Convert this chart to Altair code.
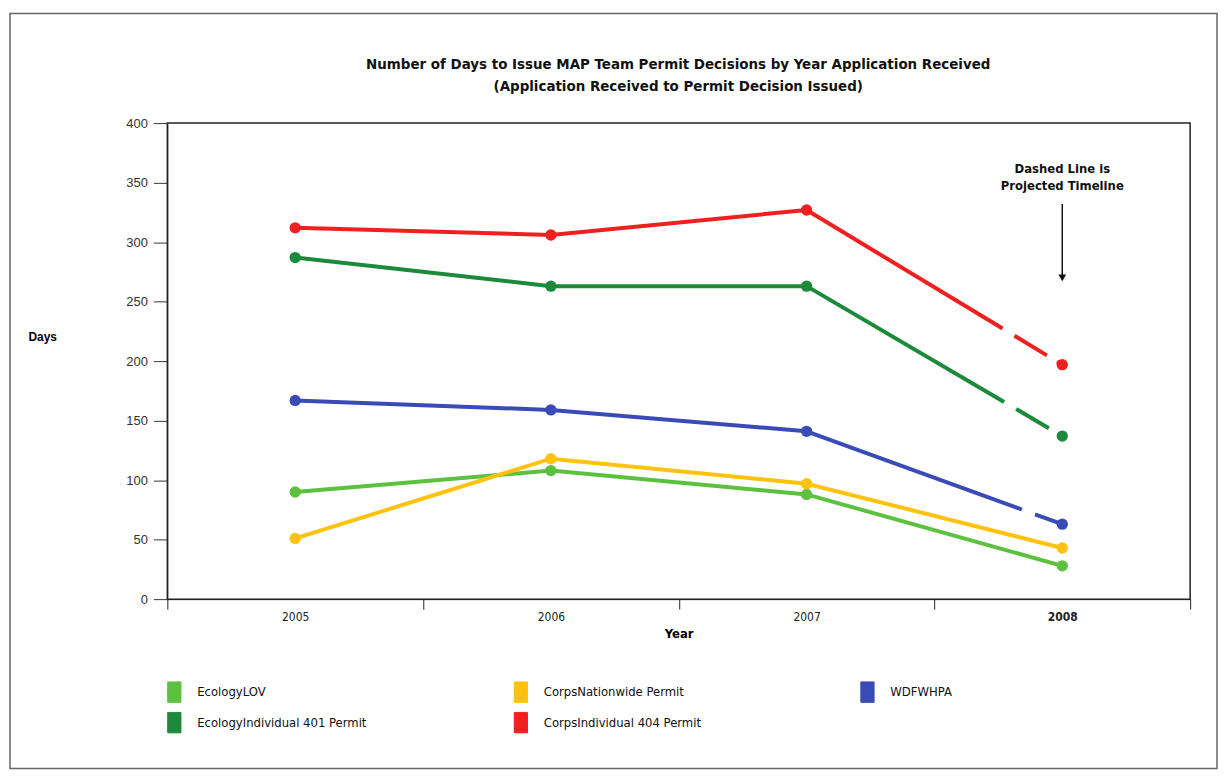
import altair as alt
import pandas as pd

years = ["2005", "2006", "2007", "2008"]
series = [
    "EcologyLOV",
    "CorpsNationwide Permit",
    "WDFWHPA",
    "EcologyIndividual 401 Permit",
    "CorpsIndividual 404 Permit",
]
colors = ["#5cc13e", "#ffc20e", "#3a4bb8", "#1c8a3a", "#f02020"]
values = {
    "EcologyLOV": [90, 108, 88, 28],
    "CorpsNationwide Permit": [51, 118, 97, 43],
    "WDFWHPA": [167, 159, 141, 63],
    "EcologyIndividual 401 Permit": [287, 263, 263, 137],
    "CorpsIndividual 404 Permit": [312, 306, 327, 197],
}
projected = {
    "EcologyLOV": False,
    "CorpsNationwide Permit": False,
    "WDFWHPA": True,
    "EcologyIndividual 401 Permit": True,
    "CorpsIndividual 404 Permit": True,
}
title_lines = [
    "Number of Days to Issue MAP Team Permit Decisions  by Year Application Received",
    "(Application Received  to Permit Decision  Issued)",
]
note_lines = ["Dashed Line is", "Projected Timeline"]
note_days = [361, 347]
arrow_top, arrow_tip = 332, 270

rows_all, rows_solid, rows_dash = [], [], []
for s in series:
    for i, y in enumerate(years):
        r = {"Series": s, "Year": y, "Days": values[s][i]}
        rows_all.append(r)
        if not projected[s] or i < 3:
            rows_solid.append(r)
        if projected[s] and i >= 2:
            rows_dash.append(r)
df_all = pd.DataFrame(rows_all)
df_solid = pd.DataFrame(rows_solid)
df_dash = pd.DataFrame(rows_dash)

FONT = "Liberation Sans"
NARROW = "Liberation Sans Narrow, DejaVu Sans Condensed, Liberation Sans"

x_enc = alt.X(
    "Year:O",
    scale=alt.Scale(type="band", domain=years, paddingInner=0, paddingOuter=0),
    axis=alt.Axis(
        tickBand="extent", labelAngle=0, title="Year", titleFontWeight="bold",
        titleFont=NARROW, titleFontSize=13, titlePadding=6,
        tickSize=10, labelPadding=2, labelFont=NARROW, labelFontSize=12,
        labelColor="#222", tickColor="#222", domainColor="#222", grid=False,
        labelFontWeight={"condition": {"test": "datum.label == '2008'", "value": "bold"}, "value": "normal"},
    ),
)
y_enc = alt.Y(
    "Days:Q",
    scale=alt.Scale(domain=[0, 400], nice=False),
    axis=alt.Axis(
        values=list(range(0, 401, 50)), title="Days", titleAngle=0,
        titleX=-140, titleY=214, titleAlign="left", titleBaseline="middle",
        titleFontWeight="bold", titleFont=FONT, titleFontSize=12,
        tickSize=14, labelPadding=6, labelFont=FONT, labelFontSize=13,
        labelColor="#333", tickColor="#333", domainColor="#222", grid=False,
    ),
)
color_scale = alt.Scale(domain=series, range=colors)
legend = alt.Legend(
    title=None, orient="none", legendX=-4, legendY=560, columns=3,
    direction="horizontal", gridAlign="all", columnPadding=143, rowPadding=5,
    symbolType="M-0.65,-1L0.65,-1L0.65,1L-0.65,1Z", symbolSize=420,
    symbolStrokeColor="#222", symbolStrokeWidth=1, symbolOpacity=1,
    labelFont=NARROW, labelFontSize=13, labelColor="#111", labelOffset=12,
    labelLimit=300,
)
color_enc = alt.Color("Series:N", scale=color_scale, sort=series, legend=legend)

frame = alt.Chart(pd.DataFrame({"a": [0]})).mark_rect(
    fill=None, stroke="#666", strokeWidth=1.5, clip=False
).encode(
    x=alt.value(-158), x2=alt.value(1054), y=alt.value(-110), y2=alt.value(648)
)

df_title = pd.DataFrame({"t": ["\n".join(title_lines)]})
title = alt.Chart(df_title).mark_text(
    font=NARROW, fontSize=15, fontWeight="bold", color="#111",
    baseline="middle", lineBreak="\n", lineHeight=22,
).encode(x=alt.value(513), y=alt.value(-59), text="t:N")

solid = alt.Chart(df_solid).mark_line(strokeWidth=4).encode(
    x=x_enc, y=y_enc, color=color_enc, order=alt.Order("Year:O"),
)
dashed = alt.Chart(df_dash).mark_line(strokeWidth=4, strokeDash=[230, 14, 38, 12]).encode(
    x="Year:O", y="Days:Q", color=color_enc,
)
points = alt.Chart(df_all).mark_point(filled=True, size=130, opacity=1).encode(
    x="Year:O", y="Days:Q", color=color_enc,
)

df_note = pd.DataFrame({"Year": ["2008", "2008"], "Days": note_days, "t": note_lines})
note = alt.Chart(df_note).mark_text(
    font=NARROW, fontSize=13, fontWeight="bold", color="#111"
).encode(x="Year:O", y="Days:Q", text="t:N")

df_arrow = pd.DataFrame({"Year": ["2008"], "top": [arrow_top], "tip": [arrow_tip]})
arrow_line = alt.Chart(df_arrow).mark_rule(color="#111", strokeWidth=1.5).encode(
    x="Year:O", y="top:Q", y2="tip:Q"
)
arrow_head = alt.Chart(df_arrow).mark_point(
    shape="triangle-down", filled=True, size=60, color="#111", opacity=1
).encode(x="Year:O", y="tip:Q")

chart = alt.layer(
    frame, solid, dashed, points, note, arrow_line, arrow_head, title
).properties(
    width=1027, height=478,
    autosize=alt.AutoSizeParams(type="none"),
    padding={"left": 160, "top": 114, "right": 30, "bottom": 172},
).configure(background="white").configure_view(stroke="#222", strokeWidth=1.5)

chart.save("out.html", embed_options={"renderer": "svg", "actions": False})
